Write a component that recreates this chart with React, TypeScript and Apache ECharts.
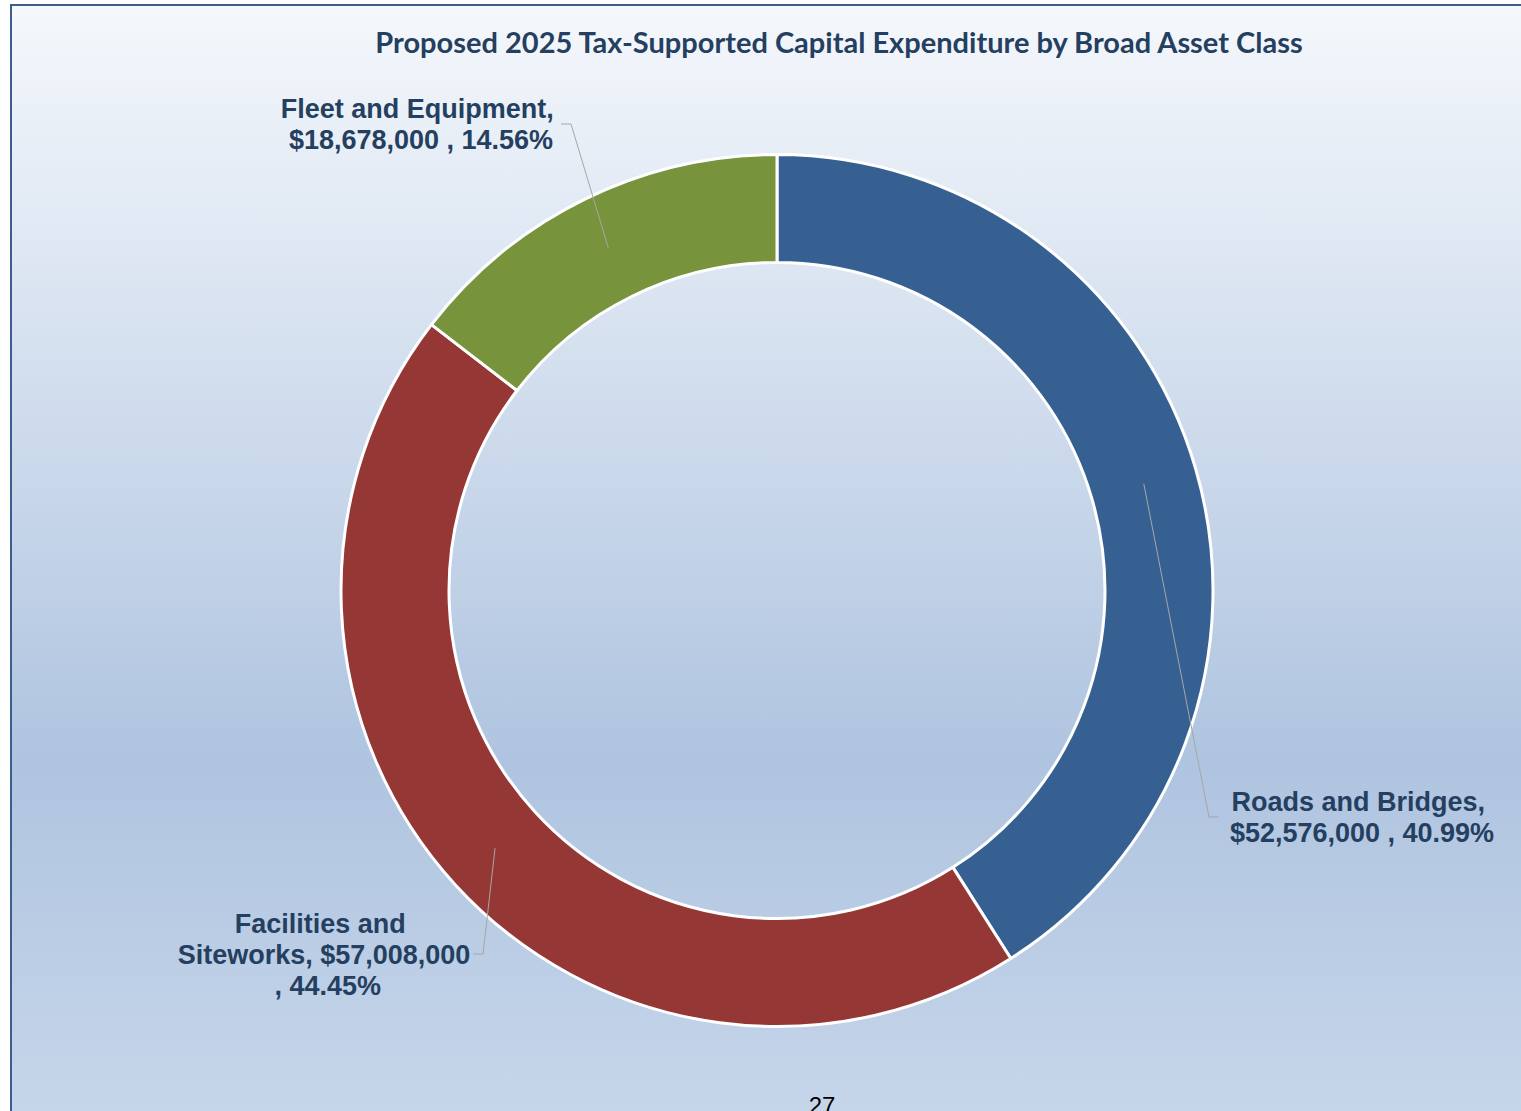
import React, { useEffect, useRef } from "react";
import * as echarts from "echarts";

const categories = ["Roads and Bridges", "Facilities and Siteworks", "Fleet and Equipment"];
const values = [52576000, 57008000, 18678000];
const sliceColors = ["#376092", "#953735", "#77933C"];
const titleText = "Proposed 2025 Tax-Supported Capital Expenditure by Broad Asset Class";
const pageNumber = "27";

// layout of labels (label centres, leader-line elbows and ends, wrap widths)
const labelCenters = [
  [1362, 817],
  [324, 955],
  [421, 124],
];
const labelElbows = [
  [[1209, 817], [1219, 817]],
  [[483, 954], [473, 954]],
  [[571, 124], [561, 124]],
];
const labelWidths = [290, 300, 290];

const CX = 777;
const CY = 590.5;
const R_IN = 328;
const R_OUT = 436;

export default function App() {
  const ref = useRef<HTMLDivElement>(null);

  useEffect(() => {
    if (!ref.current) return;
    const chart = echarts.init(ref.current, undefined, { renderer: "svg" });

    const total = values.reduce((a, b) => a + b, 0);
    const midAngles: number[] = [];
    let cum = 0;
    values.forEach((v) => {
      const deg = 90 - (360 * (cum + v / 2)) / total;
      midAngles.push((deg * Math.PI) / 180);
      cum += v;
    });
    const rMid = (R_IN + R_OUT) / 2;

    const sliceData = categories.map((name, i) => ({
      name,
      value: values[i],
      itemStyle: { color: sliceColors[i] },
    }));
    const labelData = categories.map((name, i) => ({
      name,
      value: values[i],
      label: { width: labelWidths[i] },
    }));

    chart.setOption({
      animation: false,
      title: {
        text: titleText,
        left: 834,
        top: 19,
        textAlign: "center",
        textStyle: {
          fontFamily: "Lato",
          fontWeight: "bold",
          fontSize: 29,
          lineHeight: 34,
          color: "#243F60",
        },
      },
      graphic: [
        {
          type: "rect",
          z: -10,
          silent: true,
          shape: { x: 11, y: 5, width: 1600, height: 1110 },
          style: {
            fill: new echarts.graphic.LinearGradient(0, 0, 0, 1, [
              { offset: 0, color: "#F5F8FC" },
              { offset: 0.68, color: "#AFC4E0" },
              { offset: 1, color: "#C6D6EA" },
            ]),
            stroke: "#3B5E8C",
            lineWidth: 2,
          },
        },
        {
          type: "text",
          z: 10,
          silent: true,
          x: 822,
          y: 1093,
          style: {
            text: pageNumber,
            fontFamily: "Liberation Sans",
            fontSize: 24,
            fill: "#000000",
            textAlign: "center",
            textVerticalAlign: "top",
          },
        },
      ],
      series: [
        {
          type: "pie",
          z: 2,
          silent: true,
          center: [CX, CY],
          radius: [R_IN, R_OUT],
          startAngle: 90,
          clockwise: true,
          itemStyle: { borderColor: "#FFFFFF", borderWidth: 3 },
          label: { show: false },
          labelLine: { show: false },
          emphasis: { disabled: true },
          data: sliceData,
        },
        {
          type: "pie",
          z: 5,
          silent: true,
          center: [CX, CY],
          radius: [R_IN, R_OUT],
          startAngle: 90,
          clockwise: true,
          avoidLabelOverlap: false,
          itemStyle: { color: "rgba(0,0,0,0)", borderWidth: 0 },
          label: {
            show: true,
            position: "outside",
            overflow: "break",
            fontFamily: "Liberation Sans",
            fontWeight: "bold",
            fontSize: 27,
            lineHeight: 31,
            color: "#243F60",
            align: "center",
            formatter: (p: any) =>
              `${p.name}, $${Number(p.value).toLocaleString("en-US")} , ${p.percent.toFixed(2)}%`,
          },
          labelLine: {
            show: true,
            showAbove: true,
            length: 10,
            length2: 10,
            lineStyle: { color: "#A6A6A6", width: 1 },
          },
          labelLayout: (params: any) => {
            const i = params.dataIndex;
            const a = midAngles[i];
            const sx = CX + rMid * Math.cos(a);
            const sy = CY - rMid * Math.sin(a);
            return {
              x: labelCenters[i][0],
              y: labelCenters[i][1],
              align: "center",
              verticalAlign: "middle",
              labelLinePoints: [[sx, sy], labelElbows[i][0], labelElbows[i][1]],
            };
          },
          emphasis: { disabled: true },
          data: labelData,
        },
      ],
    });

    return () => chart.dispose();
  }, []);

  return (
    <div
      ref={ref}
      style={{ position: "absolute", left: 0, top: 0, width: 1521, height: 1111, background: "#FFFFFF" }}
    />
  );
}
